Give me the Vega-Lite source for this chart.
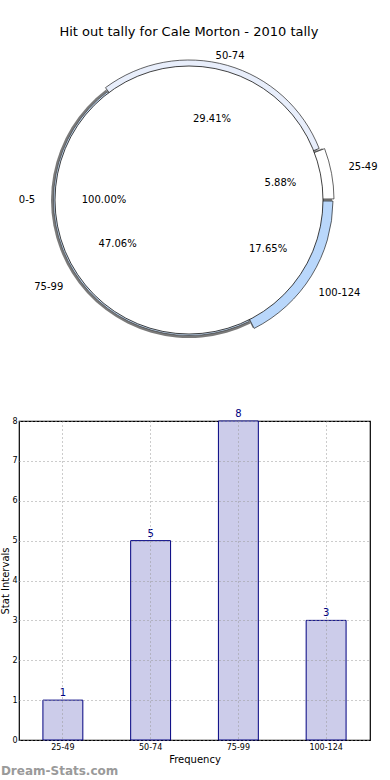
{
  "$schema": "https://vega.github.io/schema/vega-lite/v6.json",
  "padding": {"left": 0, "top": 24, "right": 0, "bottom": 0},
  "bounds": "flush",
  "spacing": 73,
  "config": {"font": "DejaVu Sans"},
  "title": {"text": "Hit out tally for Cale Morton - 2010 tally", "fontSize": 13, "fontWeight": "normal", "font": "DejaVu Sans", "anchor": "middle", "offset": -14, "color": "#000"},
  "datasets": {
    "tally": [
      {"range": "25-49", "count": 1, "share": 0.0588235, "seq": 1},
      {"range": "50-74", "count": 5, "share": 0.2941176, "seq": 2},
      {"range": "75-99", "count": 8, "share": 0.4705882, "seq": 3},
      {"range": "100-124", "count": 3, "share": 0.1764706, "seq": 4}
    ],
    "base": [
      {"range": "0-5", "share": 1}
    ]
  },
  "vconcat": [
    {
      "width": 340,
      "height": 296,
      "view": {"stroke": null},
      "resolve": {"scale": {"theta": "independent"}},
      "layer": [
        {
          "data": {"name": "tally"},
          "transform": [
            {"stack": "count", "groupby": [], "sort": [{"field": "seq", "order": "descending"}], "as": ["t0", "t1"]}
          ],
          "encoding": {
            "theta": {"field": "t0", "type": "quantitative", "scale": {"domain": [0, 17], "range": [1.5708, 7.854]}},
            "theta2": {"field": "t1"}
          },
          "layer": [
            {"transform": [{"filter": "datum.range == '25-49' || datum.range == '100-124'"}], "mark": {"type": "arc", "radius": 143, "fill": "#8c8c8c", "stroke": null}},
            {"transform": [{"filter": "datum.range == '50-74'"}], "mark": {"type": "arc", "radius": 138, "fill": "#8c8c8c", "stroke": null}},
            {"transform": [{"filter": "datum.range == '75-99'"}], "mark": {"type": "arc", "radius": 138, "fill": "#7a7a7a", "stroke": null}},
            {"transform": [{"filter": "datum.range == '75-99'"}], "mark": {"type": "arc", "radius": 135.5, "fill": "#c6dcf5", "stroke": "#333", "strokeWidth": 0.6}},
            {"transform": [{"filter": "datum.range == '25-49'"}], "mark": {"type": "arc", "radius": 145, "padAngle": 0.015, "fill": "#ffffff", "stroke": "#222", "strokeWidth": 0.7}},
            {"transform": [{"filter": "datum.range == '50-74'"}], "mark": {"type": "arc", "radius": 140, "padAngle": 0.015, "fill": "#e8eefb", "stroke": "#222", "strokeWidth": 0.7}},
            {"transform": [{"filter": "datum.range == '100-124'"}], "mark": {"type": "arc", "radius": 144, "padAngle": 0.015, "fill": "#b9d7fb", "stroke": "#222", "strokeWidth": 0.7}}
          ]
        },
        {
          "data": {"name": "base"},
          "encoding": {
            "theta": {"field": "share", "type": "quantitative", "stack": true, "scale": {"domain": [0, 1], "range": [1.5708, 7.854]}}
          },
          "layer": [
            {"mark": {"type": "arc", "radius": 134, "fill": "#ffffff", "stroke": "#111", "strokeWidth": 0.8}},
            {"mark": {"type": "text", "radius": 162, "fontSize": 10, "color": "#000"}, "encoding": {"text": {"field": "range"}}},
            {"mark": {"type": "text", "radius": 85, "fontSize": 10, "color": "#000"}, "encoding": {"text": {"field": "share", "format": ".2%"}}}
          ]
        },
        {
          "data": {"name": "tally"},
          "encoding": {
            "theta": {"field": "count", "type": "quantitative", "stack": true, "scale": {"domain": [0, 17], "range": [1.5708, 7.854]}},
            "order": {"field": "seq", "sort": "descending"}
          },
          "layer": [
            {"mark": {"type": "text", "radius": 177, "fontSize": 10, "color": "#000"}, "encoding": {"text": {"condition": {"test": "datum.range == '25-49' || datum.range == '100-124'", "field": "range", "type": "nominal"}, "value": ""}}},
            {"mark": {"type": "text", "radius": 165, "fontSize": 10, "color": "#000"}, "encoding": {"text": {"condition": {"test": "datum.range == '75-99'", "field": "range", "type": "nominal"}, "value": ""}}},
            {"mark": {"type": "text", "radius": 150, "fontSize": 10, "color": "#000"}, "encoding": {"text": {"condition": {"test": "datum.range == '50-74'", "field": "range", "type": "nominal"}, "value": ""}}},
            {"mark": {"type": "text", "radius": 93, "fontSize": 10, "color": "#000"}, "encoding": {"text": {"condition": {"test": "datum.range == '25-49' || datum.range == '100-124'", "field": "share", "type": "quantitative", "format": ".2%"}, "value": ""}}},
            {"mark": {"type": "text", "radius": 84, "fontSize": 10, "color": "#000"}, "encoding": {"text": {"condition": {"test": "datum.range == '50-74' || datum.range == '75-99'", "field": "share", "type": "quantitative", "format": ".2%"}, "value": ""}}}
          ]
        }
      ]
    },
    {
      "width": 351,
      "height": 319,
      "data": {"name": "tally"},
      "view": {"stroke": "#000", "strokeWidth": 1.2},
      "title": {"text": "Dream-Stats.com", "orient": "bottom", "anchor": "start", "frame": "bounds", "color": "#9a9a9a", "fontSize": 12, "fontWeight": "bold", "offset": 2, "dx": 0},
      "encoding": {
        "x": {
          "field": "range", "type": "nominal",
          "sort": ["25-49", "50-74", "75-99", "100-124"],
          "scale": {"paddingInner": 0.545, "paddingOuter": 0.2725},
          "axis": {"title": "Frequency", "titleFontSize": 10, "titleFontWeight": "normal", "titlePadding": 3, "labelAngle": 0, "labelFontSize": 8, "labelPadding": 3, "labelColor": "#000", "ticks": false, "domain": false, "grid": true, "gridDash": [1, 3], "gridColor": "#999", "gridWidth": 1, "bandPosition": 0.5, "zindex": 1}
        },
        "y": {
          "field": "count", "type": "quantitative",
          "scale": {"domain": [0, 8], "nice": false},
          "axis": {"title": "Stat Intervals", "titleFontSize": 10, "titleFontWeight": "normal", "titlePadding": 1, "values": [0, 1, 2, 3, 4, 5, 6, 7, 8], "labelFontSize": 8, "labelPadding": 2, "labelColor": "#000", "ticks": false, "domain": false, "grid": true, "gridDash": [1, 3], "gridColor": "#999", "gridWidth": 1, "zindex": 1}
        }
      },
      "layer": [
        {"mark": {"type": "bar", "fill": "#ccccea", "stroke": "#000080", "strokeWidth": 1}},
        {"mark": {"type": "text", "dy": -7, "fontSize": 10, "color": "#000080"}, "encoding": {"text": {"field": "count"}}}
      ]
    }
  ]
}
